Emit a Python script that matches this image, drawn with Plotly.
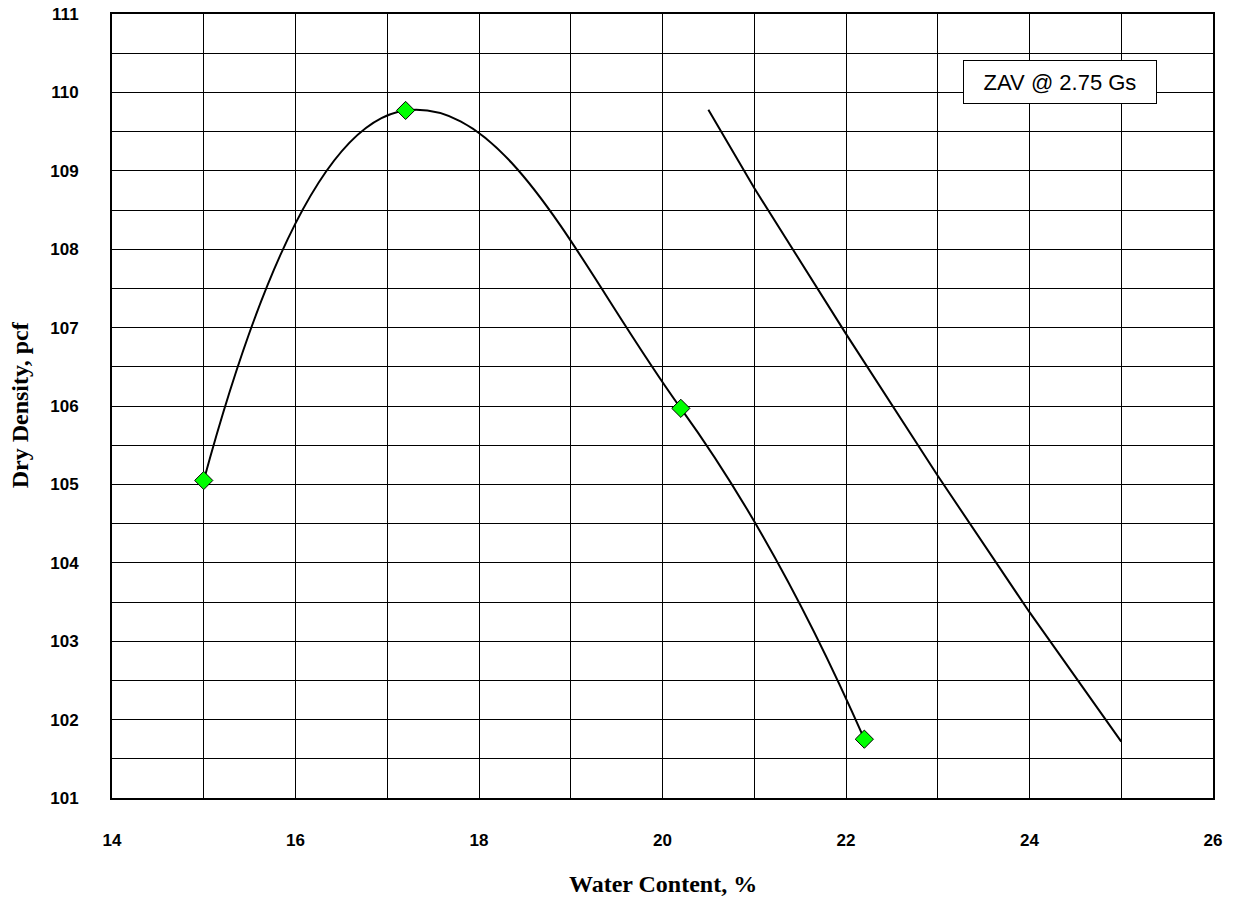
import plotly.graph_objects as go

# Compaction test points
water_content = [15.0, 17.2, 20.2, 22.2]
dry_density = [105.05, 109.77, 105.97, 101.75]

# Zero air voids line (Gs = 2.75)
zav_water = [20.5, 21.0, 22.0, 23.0, 24.0, 25.0]
zav_density = [109.78, 108.78, 106.92, 105.11, 103.37, 101.72]

x_ticks = [14, 16, 18, 20, 22, 24, 26]
y_ticks = [101, 102, 103, 104, 105, 106, 107, 108, 109, 110, 111]

fig = go.Figure()
fig.add_trace(go.Scatter(x=zav_water, y=zav_density, mode="lines",
                         line=dict(color="black", width=2), showlegend=False))
fig.add_trace(go.Scatter(x=water_content, y=dry_density, mode="lines",
                         line=dict(color="black", width=2, shape="spline", smoothing=1.3),
                         showlegend=False))
fig.add_trace(go.Scatter(x=water_content, y=dry_density, mode="markers",
                         marker=dict(symbol="diamond", size=14, color="#00FF00",
                                     line=dict(color="black", width=1)),
                         showlegend=False))

fig.add_annotation(x=24.33, y=110.13, xref="x", yref="y", text="ZAV @ 2.75 Gs",
                   showarrow=False, font=dict(family="Liberation Sans, Arial", size=22, color="black"),
                   bgcolor="white", bordercolor="black", borderwidth=1,
                   width=190, height=40)

# Axis titles
fig.add_annotation(x=0.5, y=-0.1097, xref="paper", yref="paper", text="Water Content, %",
                   showarrow=False, xanchor="center", yanchor="middle",
                   font=dict(family="Liberation Serif, Times New Roman", size=24,
                             color="black", weight="bold"))
fig.add_annotation(x=-0.0835, y=0.501, xref="paper", yref="paper", text="Dry Density, pcf",
                   showarrow=False, xanchor="center", yanchor="middle", textangle=-90,
                   font=dict(family="Liberation Serif, Times New Roman", size=24,
                             color="black", weight="bold"))

tickfont = dict(family="Liberation Sans, Arial", size=17, color="black", weight="bold")

fig.update_xaxes(range=[14, 26], tickvals=x_ticks, ticktext=[str(v) for v in x_ticks],
                 showgrid=True, gridcolor="black", gridwidth=1,
                 minor=dict(dtick=1, showgrid=True, gridcolor="black", gridwidth=1, ticks=""),
                 showline=True, linecolor="black", linewidth=2, mirror=True,
                 ticks="", zeroline=False, ticklabelstandoff=26, automargin=False,
                 tickfont=tickfont)
fig.update_yaxes(range=[101, 111], tickvals=y_ticks, ticktext=[str(v) for v in y_ticks],
                 showgrid=True, gridcolor="black", gridwidth=1,
                 minor=dict(dtick=0.5, showgrid=True, gridcolor="black", gridwidth=1, ticks=""),
                 showline=True, linecolor="black", linewidth=2, mirror=True,
                 ticks="", zeroline=False, ticklabelstandoff=28, automargin=False,
                 tickfont=tickfont)

fig.update_layout(width=1233, height=897, plot_bgcolor="white", paper_bgcolor="white",
                  margin=dict(l=112, r=20, t=14, b=99), showlegend=False)

fig.write_html("out.html")
